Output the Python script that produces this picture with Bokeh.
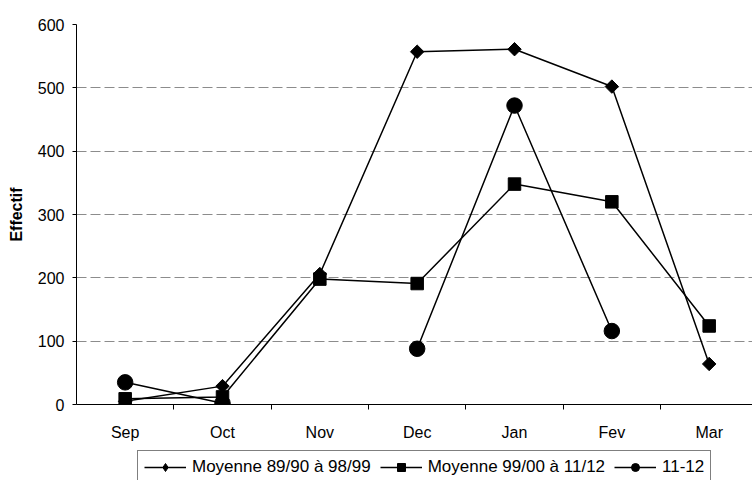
import math
from bokeh.plotting import figure
from bokeh.layouts import column
from bokeh.models import Range1d, FixedTicker, Legend, LegendItem, ColumnDataSource
from bokeh.embed import file_html
from bokeh.resources import INLINE

months = ["Sep", "Oct", "Nov", "Dec", "Jan", "Fev", "Mar"]
moy_89_99 = [5, 29, 206, 557, 561, 502, 64]
moy_99_12 = [9, 12, 198, 191, 348, 320, 124]
s_11_12 = [35, 2, float("nan"), 88, 472, 116, float("nan")]
y_ticks = [0, 100, 200, 300, 400, 500, 600]
series_names = ["Moyenne 89/90 à 98/99", "Moyenne 99/00 à 11/12", "11-12"]

xs = [i + 0.5 for i in range(len(months))]
bounds = [i for i in range(1, len(months))]

FONT = "Liberation Sans"

p = figure(width=752, height=444, output_backend="svg", toolbar_location=None,
           x_range=Range1d(0, 6.945), y_range=Range1d(0, 600),
           min_border_left=76, min_border_right=0, min_border_top=24, min_border_bottom=40)
p.outline_line_color = None
p.background_fill_color = "white"
p.border_fill_color = "white"

# grid
p.xgrid.grid_line_color = None
p.ygrid.grid_line_color = "#8c8c8c"
p.ygrid.grid_line_dash = "10 4"
p.ygrid.grid_line_width = 1
p.ygrid.ticker = FixedTicker(ticks=y_ticks)

# y axis
p.yaxis.ticker = FixedTicker(ticks=y_ticks)
p.yaxis.axis_label = "Effectif"
p.yaxis.axis_label_text_font = FONT
p.yaxis.axis_label_text_font_style = "bold"
p.yaxis.axis_label_text_font_size = "16px"
p.yaxis.axis_label_text_color = "black"
p.yaxis.axis_label_standoff = 10
p.yaxis.major_label_text_font = FONT
p.yaxis.major_label_text_font_size = "16px"
p.yaxis.major_label_text_color = "black"
p.yaxis.major_tick_out = 4
p.yaxis.major_tick_in = 0
p.yaxis.minor_tick_line_color = None
p.yaxis.axis_line_color = "black"
p.yaxis.major_tick_line_color = "black"
p.yaxis.major_label_standoff = 8

# x axis
p.xaxis.ticker = FixedTicker(ticks=xs, minor_ticks=bounds)
p.xaxis.major_label_overrides = {x: m for x, m in zip(xs, months)}
p.xaxis.major_tick_out = 0
p.xaxis.major_tick_in = 0
p.xaxis.minor_tick_out = 5
p.xaxis.minor_tick_in = 0
p.xaxis.minor_tick_line_color = "black"
p.xaxis.axis_line_color = "black"
p.xaxis.major_label_text_font = FONT
p.xaxis.major_label_text_font_size = "16px"
p.xaxis.major_label_text_color = "black"
p.xaxis.major_label_standoff = 14

src = ColumnDataSource(dict(x=xs, a=moy_89_99, b=moy_99_12, c=s_11_12))


def draw(fig, first_marker="square", first_angle=math.pi / 4, first_size=9.5):
    l1 = fig.line("x", "a", source=src, line_color="black", line_width=1.5)
    m1 = fig.scatter("x", "a", source=src, marker=first_marker, angle=first_angle, size=first_size,
                     fill_color="black", line_color="black")
    l2 = fig.line("x", "b", source=src, line_color="black", line_width=1.5)
    m2 = fig.scatter("x", "b", source=src, marker="square", size=12.5,
                     fill_color="black", line_color="black")
    l3 = fig.line("x", "c", source=src, line_color="black", line_width=1.5)
    m3 = fig.scatter("x", "c", source=src, marker="circle", size=15.5,
                     fill_color="black", line_color="black")
    return [(l1, m1), (l2, m2), (l3, m3)]


draw(p)

# legend strip below the chart (its glyphs reuse the same series, outside its view)
lg = figure(width=752, height=36, output_backend="svg", toolbar_location=None,
            x_range=Range1d(0, 676), y_range=Range1d(-10, -9),
            min_border_left=76, min_border_right=0, min_border_top=0, min_border_bottom=0)
lg.axis.visible = False
lg.grid.visible = False
lg.outline_line_color = None
rs = draw(lg, first_marker="diamond", first_angle=0.0, first_size=12)

legend = Legend(items=[LegendItem(label=n, renderers=list(r)) for n, r in zip(series_names, rs)],
                orientation="horizontal", location=(61, -4))
legend.label_text_font = FONT
legend.label_text_font_size = "17px"
legend.label_text_color = "black"
legend.glyph_width = 42
legend.glyph_height = 20
legend.label_standoff = 6
legend.spacing = 9
legend.padding = 6
legend.margin = 0
legend.border_line_color = "black"
legend.border_line_width = 1
legend.background_fill_color = "white"
legend.background_fill_alpha = 1
lg.add_layout(legend, "center")

open("out.html", "w").write(file_html(column(p, lg, spacing=0), INLINE))
